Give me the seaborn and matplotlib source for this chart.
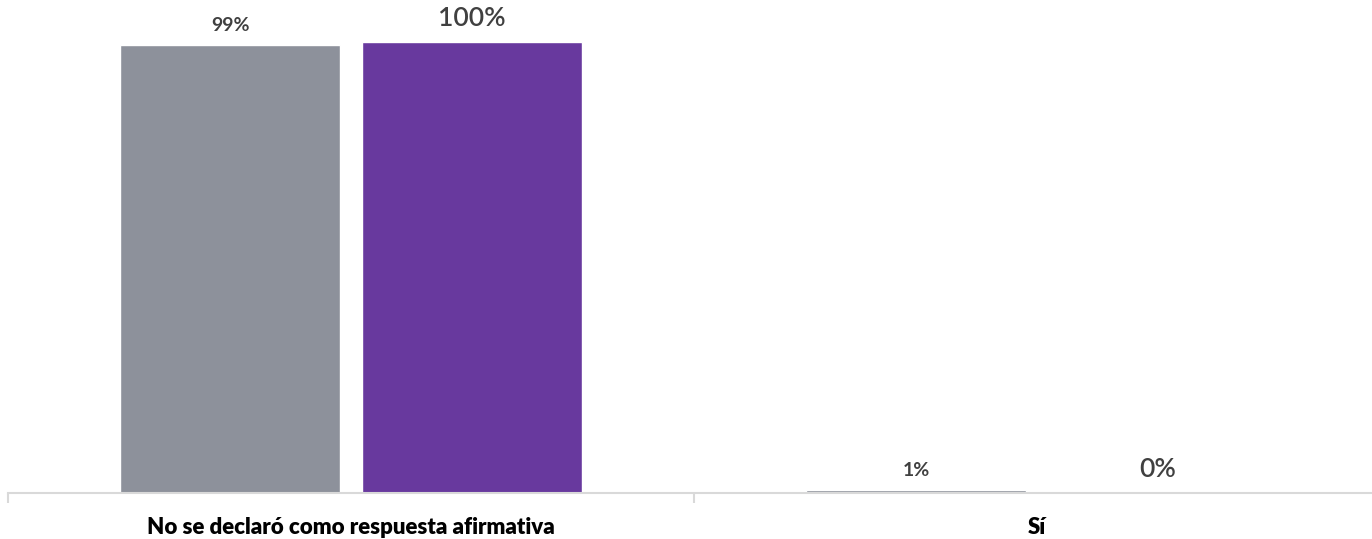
import pandas as pd
import numpy as np
import matplotlib
matplotlib.use("Agg")
import matplotlib.pyplot as plt
import seaborn as sns

categories = ["No se declaró como respuesta afirmativa", "Sí"]
series = ["Serie 1", "Serie 2"]
values_s1 = [99.4, 0.6]
values_s2 = [100, 0]
colors = ["#8D919B", "#68399E"]

df = pd.DataFrame({
    "categoria": categories * 2,
    "serie": [series[0]] * 2 + [series[1]] * 2,
    "valor": values_s1 + values_s2,
})

sns.set_style("white")
plt.rcParams["font.family"] = ["Lato", "DejaVu Sans"]

fig = plt.figure(figsize=(13.72, 5.39), dpi=100)
# el eje se extiende un poco más allá del borde derecho, como en el original
ax = fig.add_axes([8 / 1372, 46 / 539, 1372 / 1372, 493 / 539])

sns.barplot(data=df, x="categoria", y="valor", hue="serie", order=categories,
            hue_order=series, palette=colors, width=0.705, gap=0.09,
            saturation=1, legend=False, ax=ax)

ax.set_ylim(0, 109.3)
ax.set_xlim(-0.5, 1.5)

# etiquetas de datos
for cont, size, weight, pad in zip(ax.containers, [14, 19], ["bold", "semibold"], [8, 8]):
    ax.bar_label(cont, fmt="%.0f%%", padding=pad, fontsize=size,
                 fontweight=weight, color="#404040")

sns.despine(ax=ax, left=True, top=True, right=True)
ax.spines["bottom"].set_color("#d9d9d9")
ax.spines["bottom"].set_linewidth(1.5)
ax.set_yticks([])
ax.set_xlabel("")
ax.set_ylabel("")
ax.tick_params(axis="x", which="major", length=0, pad=17, labelsize=16,
               labelcolor="black")
for t in ax.get_xticklabels():
    t.set_fontweight("heavy")
ax.set_xticks([-0.5, 0.5, 1.5], minor=True)
ax.tick_params(axis="x", which="minor", length=7, width=1.5, color="#d9d9d9",
               bottom=True)

fig.savefig("out.png", dpi=100)
